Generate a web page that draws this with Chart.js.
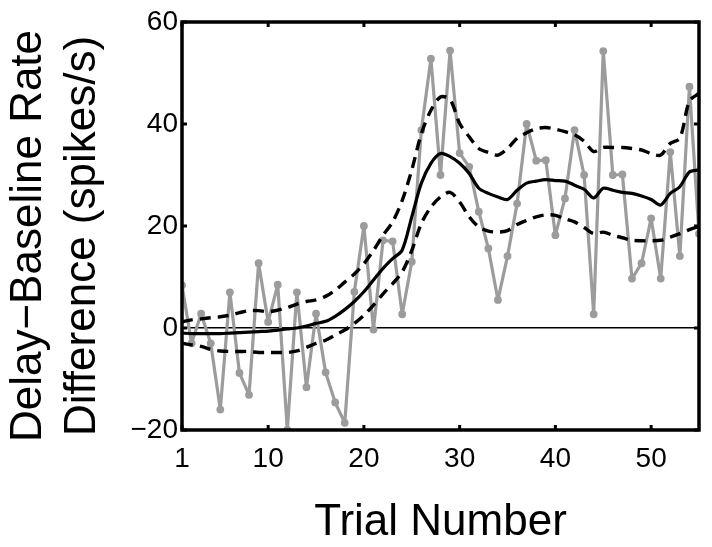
<!DOCTYPE html>
<html>
<head>
<meta charset="utf-8">
<script src="https://cdn.jsdelivr.net/npm/chart.js@4/dist/chart.umd.min.js"></script>
<style>
html,body{margin:0;padding:0;background:#fff;}
#wrap{width:712px;height:547px;}
</style>
</head>
<body>
<div id="wrap"><canvas id="c" width="712" height="547"></canvas></div>
<script>
const trials = [1,2,3,4,5,6,7,8,9,10,11,12,13,14,15,16,17,18,19,20,21,22,23,24,25,26,27,28,29,30,31,32,33,34,35,36,37,38,39,40,41,42,43,44,45,46,47,48,49,50,51,52,53,54,55];
const rawRate = [8.4,-3,2.8,-3,-16,7,-8.8,-13.1,12.7,1.2,8.5,-20,7,-11.6,2.8,-8.7,-14.6,-18.6,7.1,20,-0.3,17.2,17,2.7,13,38.8,52.8,30,54.4,34.3,31.6,22.8,15.6,5.5,14.1,24.4,40,32.8,32.9,18.2,25.4,38.8,30,2.7,54.3,30,30.1,9.7,12.7,21.5,9.7,34.5,14.1,47.3,18.5];
const smoothRate = [-1,-1.1,-1.1,-1.1,-1.1,-1,-0.9,-0.8,-0.7,-0.6,-0.4,-0.2,0,0.4,0.9,1.3,2.3,3.6,5.2,7.1,9.4,11.7,13.6,15.3,21.8,28.4,32.3,34.2,33.6,32.3,30.3,27.4,26.4,25.7,25.2,27,28.4,28.8,29.1,28.9,28.8,28,27.2,25.5,27.4,27,26.6,26.4,25.9,25.2,24.1,26.4,27.7,30.6,31];
const upperBound = [1.2,1.6,1.8,2,2.2,2.5,3,3.4,3.4,3.2,3.5,4,4.7,5.2,5.5,6.2,7.4,9,10.6,12.6,15.2,18.2,20.8,25,31,38.1,42.7,45.3,44.8,40.1,37.5,35.2,34.4,33.9,35.2,37.2,38.3,39.1,39.3,39,38.5,37.9,36.6,34.6,35.4,35.4,35.4,35.2,34.9,34.2,33.9,36.2,37.2,44.5,46];
const lowerBound = [-3,-3.3,-3.6,-4.2,-4.5,-4.6,-4.6,-4.6,-4.8,-4.8,-4.8,-4.8,-4.5,-3.8,-3,-2.4,-1.4,-0.4,0.9,2.5,4.5,6.7,8.7,11,15.2,20.5,23.7,25.7,26.6,24.7,21.8,19.8,19,18.8,19.1,20.3,21.1,21.8,22.2,22.1,21.4,20.8,19.7,18.5,18.8,18.2,17.7,17.2,17.1,17.1,17.2,17.8,18.5,19.3,19.9];
const xTicks = [1,10,20,30,40,50];
const yTicks = [-20,0,20,40,60];
const yTitleLines = ['Delay\u2212Baseline Rate','Difference (spikes/s)'];

const pts = arr => trials.map((t,i)=>({x:t,y:arr[i]}));
const FONT = "'Liberation Sans', Arial, Helvetica, sans-serif";
const GRAY = '#9c9c9c';

const framePlugin = {
  id:'frame',
  afterDatasetsDraw(chart){
    const {ctx, chartArea:a, scales} = chart;
    ctx.save();
    ctx.strokeStyle = '#000';
    ctx.lineWidth = 3;
    ctx.lineCap = 'butt';
    const tl = 5;
    ctx.beginPath();
    xTicks.forEach(v=>{
      const px = scales.x.getPixelForValue(v);
      ctx.moveTo(px, a.bottom); ctx.lineTo(px, a.bottom - tl);
      ctx.moveTo(px, a.top); ctx.lineTo(px, a.top + tl);
    });
    yTicks.forEach(v=>{
      const py = scales.y.getPixelForValue(v);
      ctx.moveTo(a.left, py); ctx.lineTo(a.left + tl, py);
      ctx.moveTo(a.right, py); ctx.lineTo(a.right - tl, py);
    });
    ctx.stroke();
    ctx.lineWidth = 3.5;
    ctx.strokeRect(a.left, a.top, a.right - a.left, a.bottom - a.top);
    // y-axis title (two lines, rotated)
    ctx.fillStyle = '#000';
    ctx.font = "44px " + FONT;
    ctx.textAlign = 'center';
    ctx.textBaseline = 'middle';
    ctx.translate(0, (a.top + a.bottom)/2 + 10);
    ctx.rotate(-Math.PI/2);
    ctx.fillText(yTitleLines[0], 0, 29);
    ctx.fillText(yTitleLines[1], 0, 83);
    ctx.restore();
  }
};

new Chart(document.getElementById('c'), {
  type:'line',
  data:{
    datasets:[
      {data:pts(smoothRate), borderColor:'#000', borderWidth:3.2, pointRadius:0, tension:0.3, borderJoinStyle:'round', order:1},
      {data:pts(upperBound), borderColor:'#000', borderWidth:3.4, borderDash:[11,7], pointRadius:0, tension:0.3, order:2},
      {data:pts(lowerBound), borderColor:'#000', borderWidth:3.4, borderDash:[11,7], pointRadius:0, tension:0.3, order:2},
      {data:pts(rawRate), borderColor:GRAY, backgroundColor:GRAY, borderWidth:3.2, borderJoinStyle:'round', borderCapStyle:'round', pointRadius:3.9, pointBorderWidth:0, pointBackgroundColor:GRAY, tension:0, order:3}
    ]
  },
  options:{
    responsive:false,
    animation:false,
    events:[],
    layout:{padding:{left:0,right:13,top:22,bottom:0}},
    plugins:{legend:{display:false}, tooltip:{enabled:false}},
    scales:{
      x:{
        type:'linear', min:1, max:55,
        afterBuildTicks(s){ s.ticks = xTicks.map(v=>({value:v})); },
        afterFit(s){ s.height = 117; },
        grid:{display:false, drawTicks:false},
        border:{display:false},
        ticks:{color:'#000', font:{family:FONT, size:28}, padding:12, maxRotation:0, autoSkip:false},
        title:{display:true, text:'Trial Number', color:'#000', font:{family:FONT, size:44, lineHeight:1.0}, padding:{top:0,bottom:2}}
      },
      y:{
        min:-20, max:60,
        afterBuildTicks(s){ s.ticks = yTicks.map(v=>({value:v})); },
        afterFit(s){ s.width = 182; },
        grid:{drawTicks:false, color:c=>c.tick && c.tick.value===0 ? '#000' : 'rgba(0,0,0,0)', lineWidth:1.5},
        border:{display:false},
        ticks:{color:'#000', font:{family:FONT, size:28}, padding:4, callback:v=>String(v).replace('-','\u2212')},
        title:{display:false}
      }
    }
  },
  plugins:[framePlugin]
});
</script>
</body>
</html>
